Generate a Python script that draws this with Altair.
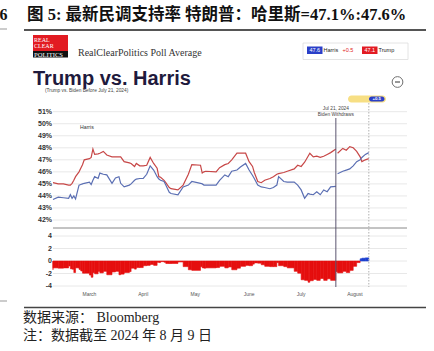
import altair as alt
import pandas as pd

# ---------------- data ----------------
dates = ["2024-02-09","2024-02-12","2024-02-15","2024-02-18","2024-02-19","2024-02-20","2024-02-21","2024-02-22","2024-02-24","2024-02-25","2024-02-26","2024-02-27",
         "2024-03-01","2024-03-02","2024-03-03","2024-03-04","2024-03-06","2024-03-07","2024-03-09","2024-03-11","2024-03-14","2024-03-16","2024-03-18","2024-03-19","2024-03-21","2024-03-24","2024-03-25","2024-03-27","2024-03-28","2024-03-30",
         "2024-04-01","2024-04-03","2024-04-05","2024-04-07","2024-04-09","2024-04-10","2024-04-11","2024-04-13","2024-04-14","2024-04-16","2024-04-17","2024-04-21","2024-04-24","2024-04-27","2024-04-29",
         "2024-05-04","2024-05-05","2024-05-06","2024-05-07","2024-05-13","2024-05-15","2024-05-18","2024-05-20","2024-05-22","2024-05-25","2024-05-27","2024-05-30",
         "2024-06-01","2024-06-03","2024-06-04","2024-06-06","2024-06-08","2024-06-10","2024-06-13","2024-06-15","2024-06-17","2024-06-18","2024-06-21","2024-06-23","2024-06-27","2024-06-29",
         "2024-07-01","2024-07-03","2024-07-05","2024-07-06","2024-07-08","2024-07-10","2024-07-12","2024-07-14","2024-07-16","2024-07-18","2024-07-21","2024-07-22","2024-07-25","2024-07-27","2024-07-29","2024-07-31",
         "2024-08-02","2024-08-04","2024-08-05","2024-08-07","2024-08-09"]

trump = [45.1,45.0,45.0,44.9,44.9,45.05,45.3,45.6,46.0,46.3,46.6,47.0,
         47.1,47.2,47.9,47.45,47.5,47.55,47.7,47.4,47.25,47.25,47.25,47.25,46.85,46.75,46.7,46.45,46.7,46.5,
         46.5,46.55,47.2,46.7,46.3,45.6,45.55,45.3,45.1,44.7,44.6,44.5,44.9,45.8,46.6,
         46.55,45.9,46.0,46.05,46.0,46.35,46.6,46.7,47.0,47.55,47.55,47.55,
         46.85,46.45,45.95,45.2,45.1,45.3,45.45,45.6,45.8,45.85,45.95,46.05,46.25,46.55,
         46.45,46.8,47.3,47.55,47.25,47.3,47.2,47.3,47.45,47.6,47.9,47.55,47.95,47.8,48.1,48.0,
         47.7,47.25,46.85,47.0,47.1]

harris = [43.7,43.9,43.85,43.8,44.1,43.8,44.0,43.75,44.9,44.95,45.0,45.05,
          45.15,44.95,45.3,45.6,45.45,45.9,45.8,45.75,45.05,45.5,45.6,45.05,44.75,44.9,45.0,45.3,45.4,45.45,
          45.45,45.8,46.5,46.15,45.6,45.4,45.3,45.2,44.9,44.3,44.2,44.1,44.75,44.9,45.2,
          45.05,45.0,44.9,44.9,44.9,45.3,45.75,45.6,46.05,46.15,46.4,46.7,
          46.15,45.7,45.45,44.9,44.75,44.7,44.6,44.7,44.9,45.6,45.2,45.15,45.15,44.9,
          44.5,43.8,44.2,44.15,44.1,44.35,44.1,44.5,44.35,44.75,44.8,45.85,46.05,46.15,46.25,46.5,
          46.85,47.0,47.2,47.45,47.6]

withdraw_date = "2024-07-21"
last_date = "2024-08-09"

top_ticks = [42, 43, 44, 45, 46, 47, 48, 49, 50, 51]
top_labels = ["42%", "43%", "44%", "45%", "46%", "47%", "48%", "49%", "50%", "51%"]
bot_ticks = [4, 2, 0, -2, -4]
bot_labels = ["4", "2", "0", "-2", "-4"]
month_dates = ["2024-03-01", "2024-04-01", "2024-05-01", "2024-06-01", "2024-07-01", "2024-08-01"]
month_labels = ["March", "April", "May", "June", "July", "August"]

# ---------------- tables ----------------
era = ["Biden" if d <= withdraw_date else "Harris" for d in dates]
bars = pd.DataFrame({"date": dates, "prev": [dates[0]] + dates[:-1],
                     "trump": trump, "harris": harris})
lines = pd.concat([
    pd.DataFrame({"date": dates, "value": trump, "cand": "Trump", "era": era}),
    pd.DataFrame({"date": dates, "value": harris, "cand": "Harris", "era": era}),
])
lines["grp"] = lines["cand"] + lines["era"]
top_df = pd.DataFrame({"v": top_ticks, "lab": top_labels})
bot_df = pd.DataFrame({"v": bot_ticks, "lab": bot_labels})
mon_df = pd.DataFrame({"date": month_dates, "lab": month_labels})
ev_df = pd.DataFrame({"date": [withdraw_date, last_date], "kind": ["solid", "dotted"]})
one = pd.DataFrame({"k": [0]})


def D(s):
    y, m, d = map(int, s.split("-"))
    return alt.DateTime(year=y, month=m, date=d, utc=True)


xs = alt.Scale(domain=[D("2024-02-09"), D("2024-08-31")], range=[53, 407])
yt = alt.Scale(domain=[42, 51], range=[220, 111.7], nice=False, zero=False)
yb = alt.Scale(domain=[-4, 4], range=[286, 236], nice=False, zero=False)

SANS = "Liberation Sans"
SERIF_CJK = "Liberation Serif, Noto Sans CJK SC"


def txt(s, x, y, size=6, color="#333", align="left", baseline="middle", weight="normal", font=SANS):
    return alt.Chart(one).mark_text(align=align, baseline=baseline, fontSize=size, color=color,
                                    fontWeight=weight, font=font).encode(
        x=alt.value(x), y=alt.value(y), text=alt.value(s))


def rect(x1, x2, y1, y2, fill, stroke=None, radius=0, sw=1):
    kw = dict(fill=fill, cornerRadius=radius)
    if stroke:
        kw.update(stroke=stroke, strokeWidth=sw)
    return alt.Chart(one).mark_rect(**kw).encode(
        x=alt.value(x1), x2=alt.value(x2), y=alt.value(y1), y2=alt.value(y2))


def hline(x1, x2, y, color, sw=1, dash=None):
    kw = dict(color=color, strokeWidth=sw)
    if dash:
        kw["strokeDash"] = dash
    return alt.Chart(one).mark_rule(**kw).encode(
        x=alt.value(x1), x2=alt.value(x2), y=alt.value(y))


# ---------------- chart layers ----------------
grid_top = alt.Chart(top_df).mark_rule(color="#e8e8e8", strokeWidth=1).encode(
    x=alt.value(53), x2=alt.value(407), y=alt.Y("v:Q", scale=yt, axis=None))
lab_top = alt.Chart(top_df).mark_text(align="right", baseline="middle", fontSize=7, fontWeight="bold",
                                      color="#333", font=SANS).encode(
    x=alt.value(52), y=alt.Y("v:Q", scale=yt, axis=None), text="lab:N")
grid_bot = alt.Chart(bot_df).mark_rule(color="#e8e8e8", strokeWidth=1).encode(
    x=alt.value(53), x2=alt.value(407), y=alt.Y("v:Q", scale=yb, axis=None))
lab_bot = alt.Chart(bot_df).mark_text(align="right", baseline="middle", fontSize=7, fontWeight="bold",
                                      color="#333", font=SANS).encode(
    x=alt.value(52), y=alt.Y("v:Q", scale=yb, axis=None), text="lab:N")
months = alt.Chart(mon_df).mark_text(align="center", baseline="middle", fontSize=5, color="#555",
                                     font=SANS).encode(
    x=alt.X("date:T", scale=xs, axis=None), y=alt.value(294), text="lab:N")

bar_layer = alt.Chart(bars).transform_calculate(
    spread="datum.harris - datum.trump"
).mark_rect(strokeWidth=0.6).encode(
    x=alt.X("prev:T", scale=xs, axis=None), x2="date:T",
    y=alt.Y("spread:Q", scale=yb, axis=None), y2=alt.datum(0),
    color=alt.condition("datum.spread > 0", alt.value("#1c3fd0"), alt.value("#e50e0e")),
    stroke=alt.condition("datum.spread > 0", alt.value("#1c3fd0"), alt.value("#e50e0e")))

line_layer = alt.Chart(lines).mark_line(strokeWidth=1.2).encode(
    x=alt.X("date:T", scale=xs, axis=None),
    y=alt.Y("value:Q", scale=yt, axis=None),
    color=alt.Color("cand:N", scale=alt.Scale(domain=["Trump", "Harris"], range=["#c74747", "#5b6fb3"]),
                    legend=None),
    detail="grp:N")

ev_solid = alt.Chart(ev_df[ev_df.kind == "solid"]).mark_rule(color="#5a5470", strokeWidth=1).encode(
    x=alt.X("date:T", scale=xs, axis=None), y=alt.value(118), y2=alt.value(287))
ev_dot = alt.Chart(ev_df[ev_df.kind == "dotted"]).mark_rule(color="#b0b0b0", strokeWidth=1,
                                                             strokeDash=[1.5, 1.5]).encode(
    x=alt.X("date:T", scale=xs, axis=None), y=alt.value(103), y2=alt.value(287))
ev_lab1 = alt.Chart(ev_df[ev_df.kind == "solid"]).mark_text(fontSize=4.8, color="#444", font=SANS,
                                                            baseline="middle").encode(
    x=alt.X("date:T", scale=xs, axis=None), y=alt.value(108.5), text=alt.value("Jul 21, 2024"))
ev_lab2 = alt.Chart(ev_df[ev_df.kind == "solid"]).mark_text(fontSize=4.8, color="#444", font=SANS,
                                                            baseline="middle").encode(
    x=alt.X("date:T", scale=xs, axis=None), y=alt.value(114.5), text=alt.value("Biden Withdraws"))

divider = hline(53, 407, 228, "#888", 1)

layers = [
    grid_top, lab_top, grid_bot, lab_bot, months, bar_layer, divider, line_layer,
    ev_solid, ev_dot, ev_lab1, ev_lab2,
    # pill
    rect(348, 386, 95.5, 102.5, "#f7df84", radius=3.5),
    rect(369, 384.5, 96.5, 101.5, "#2b3fc8", radius=2.5),
    txt("+0.5", 376.7, 99.2, size=4.3, color="white", align="center", weight="bold"),
    txt("Harris", 80, 127, size=5.2, color="#333"),
    # header
    rect(33, 68, 35, 51, "#e21b22"),
    rect(33, 68, 51, 57.5, "#111111"),
    txt("REAL", 34, 40, size=6, color="white", font="Liberation Serif"),
    txt("CLEAR", 34, 46, size=6, color="white", font="Liberation Serif"),
    txt("POLITICS", 34, 54.5, size=6.6, color="white", font="Liberation Serif"),
    txt("RealClearPolitics Poll Average", 78, 53, size=10, color="#333", font="Liberation Serif"),
    rect(303, 408, 43, 59.5, "white", stroke="#dddddd", sw=0.8),
    rect(307, 322.5, 46.5, 54, "#2a3fc8"),
    txt("47.6", 314.8, 50.4, size=5.5, color="white", align="center"),
    txt("Harris", 323.5, 50.4, size=5.5, color="#222"),
    txt("+0.5", 342.5, 50.4, size=5.5, color="#e21b22"),
    rect(362, 377.5, 46.5, 54, "#e21b22"),
    txt("47.1", 369.8, 50.4, size=5.5, color="white", align="center"),
    txt("Trump", 378.5, 50.4, size=5.5, color="#222"),
    txt("Trump vs. Harris", 33, 84.5, size=20, color="#1f1a3d", weight="bold",
        baseline="alphabetic", font="Liberation Sans Narrow, Liberation Sans"),
    txt("(Trump vs. Biden Before July 21, 2024)", 45, 90.5, size=4.8, color="#444"),
    alt.Chart(one).mark_point(shape="circle", size=115, color="#333", strokeWidth=1, filled=False).encode(
        x=alt.value(397.5), y=alt.value(82)),
    hline(395, 400, 82, "#333", 1),
    # page title, rules, notes
    txt("6", 7.5, 20, size=16, color="#111", align="right", weight="bold", baseline="alphabetic",
        font=SERIF_CJK),
    txt("图 5: 最新民调支持率 特朗普：哈里斯=47.1%:47.6%", 27, 20, size=16.5, color="#111", weight="bold",
        baseline="alphabetic", font=SERIF_CJK),
    hline(24, 426, 30, "#555", 2),
    hline(0, 7, 29, "#999", 1),
    hline(24, 426, 307.5, "#444", 1.5),
    hline(0, 7, 301, "#999", 1),
    txt("数据来源： Bloomberg", 23, 322, size=14, color="#222", baseline="alphabetic", font=SERIF_CJK),
    txt("注：数据截至 2024 年 8 月 9 日", 23, 340, size=14, color="#222", baseline="alphabetic",
        font=SERIF_CJK),
]

chart = alt.layer(*layers).resolve_scale(y="independent", color="independent").properties(
    width=434, height=351, autosize=alt.AutoSizeParams(type="none"), padding=0,
    background="white"
).configure_view(stroke=None)

chart.save("out.html", embed_options={"renderer": "svg", "actions": False})
